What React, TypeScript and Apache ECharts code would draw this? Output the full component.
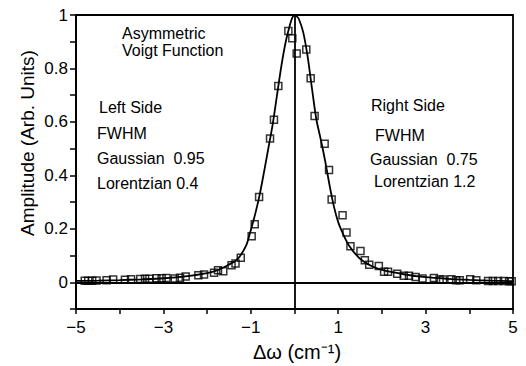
import React, { useEffect, useRef } from "react";
import * as echarts from "echarts";

// Fitted asymmetric Voigt curve
const curveX = [-5, -4.5, -4, -3.5, -3, -2.5, -2, -1.75, -1.5, -1.35, -1.25, -1.1, -1.0, -0.9, -0.8, -0.7, -0.6, -0.5, -0.4, -0.3, -0.2, -0.1, -0.05, 0, 0.05, 0.1, 0.2, 0.3, 0.4, 0.5, 0.6, 0.7, 0.8, 0.9, 1.0, 1.1, 1.25, 1.5, 1.75, 2.0, 2.5, 3.0, 3.5, 4.0, 4.5, 5.0];
const curveY = [0.005, 0.006, 0.008, 0.011, 0.015, 0.022, 0.034, 0.046, 0.066, 0.08, 0.097, 0.14, 0.195, 0.255, 0.325, 0.41, 0.5, 0.59, 0.7, 0.81, 0.9, 0.965, 0.99, 1.0, 0.995, 0.985, 0.935, 0.845, 0.725, 0.61, 0.535, 0.455, 0.365, 0.285, 0.225, 0.185, 0.137, 0.088, 0.062, 0.046, 0.03, 0.019, 0.013, 0.009, 0.006, 0.004];

// Measured data (hollow squares)
const pointsX = [-4.8, -4.72, -4.63, -4.53, -4.3, -4.15, -3.88, -3.74, -3.53, -3.42, -3.32, -3.16, -3.04, -2.93, -2.74, -2.62, -2.49, -2.2, -2.07, -1.84, -1.75, -1.63, -1.44, -1.35, -1.23, -0.98, -0.91, -0.81, -0.56, -0.47, -0.37, -0.14, -0.05, 0.05, 0.27, 0.37, 0.46, 0.69, 0.79, 0.85, 1.1, 1.19, 1.28, 1.51, 1.61, 1.71, 1.93, 2.05, 2.14, 2.35, 2.5, 2.62, 2.77, 2.93, 3.19, 3.32, 3.4, 3.59, 3.7, 3.78, 4.02, 4.16, 4.43, 4.54, 4.66, 4.79, 4.91, 4.97];
const pointsY = [0.006, 0.006, 0.006, 0.007, 0.008, 0.01, 0.009, 0.011, 0.012, 0.013, 0.013, 0.015, 0.015, 0.016, 0.014, 0.017, 0.022, 0.026, 0.029, 0.036, 0.045, 0.041, 0.064, 0.07, 0.092, 0.172, 0.217, 0.319, 0.538, 0.608, 0.734, 0.94, 0.913, 0.856, 0.871, 0.763, 0.622, 0.518, 0.42, 0.31, 0.251, 0.186, 0.135, 0.117, 0.082, 0.066, 0.061, 0.039, 0.039, 0.032, 0.024, 0.024, 0.02, 0.014, 0.016, 0.01, 0.01, 0.011, 0.008, 0.008, 0.011, 0.008, 0.005, 0.005, 0.005, 0.005, 0.004, 0.004];

const xTickLabels = [-5, -3, -1, 1, 3, 5];
const yTickLabels = [0, 0.2, 0.4, 0.6, 0.8, 1];

const FONT = "'Liberation Sans', Arial, sans-serif";

export default function App() {
  const ref = useRef<HTMLDivElement>(null);
  useEffect(() => {
    if (!ref.current) return;
    const chart = echarts.init(ref.current, undefined, { renderer: "svg" });
    const txt = (text: string, x: number, y: number, size = 16) => ({
      type: "text",
      x,
      y,
      style: { text, fill: "#000", font: `${size}px ${FONT}`, textAlign: "left", textVerticalAlign: "middle" },
    });
    chart.setOption({
      animation: false,
      backgroundColor: "#fff",
      grid: { left: 76, right: 13, top: 15, bottom: 57, show: true, borderColor: "#000", borderWidth: 1.8 },
      xAxis: {
        type: "value",
        min: -5,
        max: 5,
        interval: 1,
        axisLine: { show: true, onZero: false, lineStyle: { color: "#000", width: 1.8 } },
        axisTick: { show: true, inside: false, length: 5, lineStyle: { color: "#000", width: 1.5 } },
        axisLabel: {
          margin: 10,
          color: "#000",
          fontSize: 17,
          fontFamily: FONT,
          formatter: (v: number) => {
            const r = Math.round(v);
            return xTickLabels.includes(r) ? String(r).replace("-", "\u2212") : "";
          },
        },
        splitLine: { show: false },
      },
      yAxis: {
        type: "value",
        min: -0.1,
        max: 1,
        interval: 0.1,
        axisLine: { show: true, onZero: false, lineStyle: { color: "#000", width: 1.8 } },
        axisTick: { show: true, inside: false, length: 6, lineStyle: { color: "#000", width: 1.5 } },
        axisLabel: {
          margin: 8,
          color: "#000",
          fontSize: 17,
          fontFamily: FONT,
          formatter: (v: number) => {
            const k = Math.round(v * 10) / 10;
            return yTickLabels.includes(k) ? String(k) : "";
          },
        },
        splitLine: { show: false },
      },
      graphic: [
        {
          type: "text",
          x: 27,
          y: 143,
          rotation: Math.PI / 2,
          style: { text: "Amplitude (Arb. Units)", fill: "#000", font: `19px ${FONT}`, textAlign: "center", textVerticalAlign: "middle" },
        },
        {
          type: "text",
          x: 297,
          y: 352,
          style: { text: "Δω (cm⁻¹)", fill: "#000", font: `20px ${FONT}`, textAlign: "center", textVerticalAlign: "middle" },
        },
        txt("Asymmetric", 122, 33),
        txt("Voigt Function", 122, 50),
        txt("Left Side", 99, 107),
        txt("FWHM", 97, 133),
        txt("Gaussian  0.95", 97, 158),
        txt("Lorentzian 0.4", 97, 183),
        txt("Right Side", 371, 105),
        txt("FWHM", 375, 135),
        txt("Gaussian  0.75", 370, 159),
        txt("Lorentzian 1.2", 374, 181),
      ],
      series: [
        {
          type: "line",
          data: curveX.map((x, i) => [x, curveY[i]]),
          smooth: 0.3,
          showSymbol: false,
          lineStyle: { color: "#000", width: 1.8 },
          silent: true,
          markLine: {
            silent: true,
            symbol: ["none", "none"],
            label: { show: false },
            lineStyle: { color: "#000", width: 1.8, type: "solid" },
            data: [{ xAxis: 0 }, { yAxis: 0 }],
          },
        },
        {
          type: "scatter",
          data: pointsX.map((x, i) => [x, pointsY[i]]),
          symbol: "rect",
          symbolSize: 7,
          itemStyle: { color: "rgba(255,255,255,0)", borderColor: "#000", borderWidth: 1.5 },
          silent: true,
        },
      ],
    });
    return () => chart.dispose();
  }, []);
  return <div ref={ref} style={{ width: 526, height: 366, position: "absolute", left: 0, top: 0 }} />;
}
